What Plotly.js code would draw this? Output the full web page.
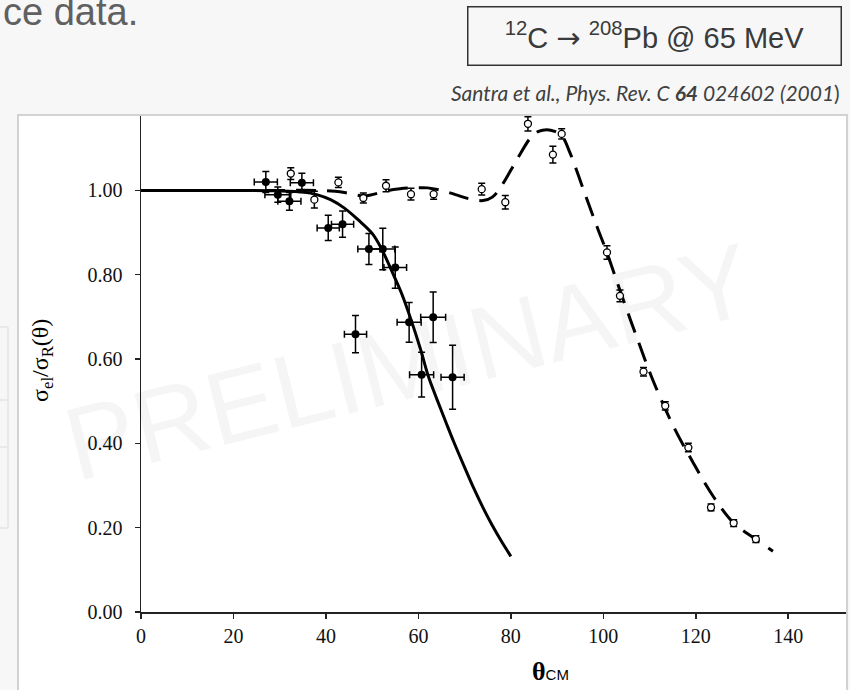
<!DOCTYPE html>
<html><head><meta charset="utf-8">
<script src="https://cdn.plot.ly/plotly-3.0.1.min.js"></script>
<style>html,body{margin:0;padding:0;background:#f7f7f7;overflow:hidden;} #chart{width:850px;height:690px;}</style>
</head><body><div id="chart"></div>
<script>
// Fit curve 1 (solid): optical-model fit to filled data
const solidTheta = [0, 10, 20, 30, 35, 38, 41, 44, 47, 50, 52, 54.6, 56.5, 58.2, 60.5, 62.1, 64, 66, 67.6, 70, 72, 74, 76, 78, 80];
const solidVals  = [1.000, 1.000, 1.000, 0.999, 0.996, 0.990, 0.978, 0.958, 0.930, 0.898, 0.862, 0.800, 0.752, 0.700, 0.622, 0.561, 0.505, 0.449, 0.405, 0.343, 0.293, 0.247, 0.205, 0.167, 0.132];

// Fit curve 2 (dashed): fit to open data
const dashTheta = [0, 10, 20, 30, 38, 42, 45, 48, 50, 53, 56, 59, 62, 65, 68, 71, 74, 76, 78.4, 81.3, 84.5, 86, 87.8, 89.5, 91, 92.8, 95.7, 98.6, 100.8, 103.6, 107.2, 110.8, 115.2, 119.5, 123.8, 128.2, 132.5, 136.7];
const dashVals  = [1.000, 1.000, 1.000, 1.000, 1.000, 0.998, 0.993, 0.987, 0.990, 0.999, 1.004, 1.006, 1.006, 1.000, 0.990, 0.980, 0.976, 0.984, 1.018, 1.073, 1.128, 1.140, 1.144, 1.140, 1.130, 1.089, 1.002, 0.915, 0.852, 0.763, 0.653, 0.548, 0.440, 0.353, 0.274, 0.211, 0.176, 0.144];

// Filled data points
const filledTheta = [27.0, 29.6, 32.1, 34.8, 40.5, 43.6, 46.4, 49.3, 52.3, 55.0, 58.0, 60.7, 63.2, 67.4];
const filledVals  = [1.020, 0.990, 0.974, 1.018, 0.911, 0.920, 0.659, 0.861, 0.861, 0.817, 0.687, 0.563, 0.699, 0.557];
const filledXErr  = [2.5, 2.8, 2.5, 2.5, 2.4, 2.4, 2.4, 2.4, 2.6, 2.45, 2.6, 2.6, 2.7, 2.5];
const filledYErr  = [0.025, 0.018, 0.021, 0.023, 0.030, 0.031, 0.044, 0.037, 0.049, 0.049, 0.047, 0.053, 0.060, 0.076];

// Open data points
const openTheta = [32.4, 37.5, 42.7, 48.1, 53.0, 58.4, 63.3, 73.7, 78.8, 83.7, 89.1, 91.0, 100.8, 103.6, 108.7, 113.4, 118.4, 123.3, 128.2, 133.0];
const openVals  = [1.040, 0.978, 1.019, 0.982, 1.011, 0.991, 0.991, 1.003, 0.972, 1.158, 1.085, 1.134, 0.853, 0.750, 0.570, 0.489, 0.390, 0.248, 0.211, 0.173];
const openYErr  = [0.014, 0.020, 0.012, 0.012, 0.014, 0.014, 0.012, 0.014, 0.016, 0.017, 0.020, 0.012, 0.016, 0.014, 0.010, 0.010, 0.010, 0.008, 0.008, 0.008];

const xTickVals = [0, 20, 40, 60, 80, 100, 120, 140];
const xTickText = ['0', '20', '40', '60', '80', '100', '120', '140'];
const yTickVals = [0, 0.2, 0.4, 0.6, 0.8, 1.0];
const yTickText = ['0.00', '0.20', '0.40', '0.60', '0.80', '1.00'];

const SERIF = "'Liberation Serif', 'DejaVu Serif', serif";
const SANS = "'Liberation Sans', Arial, sans-serif";

const traces = [
  {x: solidTheta, y: solidVals, mode: 'lines', line: {color: '#000', width: 3, shape: 'spline', smoothing: 1}, hoverinfo: 'skip', showlegend: false},
  {x: dashTheta, y: dashVals, mode: 'lines', line: {color: '#000', width: 3, dash: '20px,11px', shape: 'spline', smoothing: 1}, hoverinfo: 'skip', showlegend: false},
  {x: openTheta, y: openVals, mode: 'markers', marker: {symbol: 'circle', size: 7, color: '#fff', line: {color: '#000', width: 1.3}},
   error_y: {type: 'data', array: openYErr, visible: true, color: '#000', thickness: 1.5, width: 3.5}, showlegend: false},
  {x: filledTheta, y: filledVals, mode: 'markers', marker: {symbol: 'circle', size: 8, color: '#000'},
   error_x: {type: 'data', array: filledXErr, visible: true, color: '#000', thickness: 1.5, width: 3.5},
   error_y: {type: 'data', array: filledYErr, visible: true, color: '#000', thickness: 1.5, width: 3.5}, showlegend: false}
];

// pixel -> paper helpers (plot area: x 141..846, y 116..612)
const PX = px => (px - 141) / 705;
const PY = py => (612 - py) / 496;

const layout = {
  width: 850, height: 690,
  margin: {l: 141, r: 4, t: 116, b: 78, pad: 0},
  paper_bgcolor: '#f7f7f7',
  plot_bgcolor: 'rgba(0,0,0,0)',
  showlegend: false,
  xaxis: {range: [0, 152.5], tickvals: xTickVals, ticktext: xTickText, showgrid: false, zeroline: false,
          showline: true, linecolor: '#222', linewidth: 1.5, ticks: 'outside', ticklen: 5, tickwidth: 1.5, tickcolor: '#222',
          tickfont: {family: SERIF, size: 20, color: '#111'}},
  yaxis: {range: [0, 1.1765], tickvals: yTickVals, ticktext: yTickText, showgrid: false, zeroline: false,
          showline: true, linecolor: '#222', linewidth: 1.5, ticks: 'outside', ticklen: 5, tickwidth: 1.5, tickcolor: '#222',
          tickfont: {family: SERIF, size: 20, color: '#111'}, ticklabelstandoff: 8},
  shapes: [
    {type: 'rect', xref: 'paper', yref: 'paper', x0: PX(18), x1: PX(847), y0: PY(705), y1: PY(115), fillcolor: '#ffffff', line: {color: '#d2d2d2', width: 2}, layer: 'below'},
    {type: 'line', xref: 'paper', yref: 'paper', x0: PX(8), x1: PX(8), y0: PY(528), y1: PY(327), line: {color: '#e4e4e4', width: 1.5}, layer: 'below'},
    {type: 'line', xref: 'paper', yref: 'paper', x0: PX(-2), x1: PX(8), y0: PY(327), y1: PY(327), line: {color: '#e4e4e4', width: 1.5}, layer: 'below'},
    {type: 'line', xref: 'paper', yref: 'paper', x0: PX(-2), x1: PX(8), y0: PY(400), y1: PY(400), line: {color: '#e4e4e4', width: 1.5}, layer: 'below'},
    {type: 'line', xref: 'paper', yref: 'paper', x0: PX(-2), x1: PX(8), y0: PY(447), y1: PY(447), line: {color: '#e4e4e4', width: 1.5}, layer: 'below'},
    {type: 'line', xref: 'paper', yref: 'paper', x0: PX(-2), x1: PX(8), y0: PY(528), y1: PY(528), line: {color: '#e4e4e4', width: 1.5}, layer: 'below'}
  ],
  annotations: [
    {text: 'PRELIMINARY', xref: 'paper', yref: 'paper', x: PX(408), y: PY(362), xanchor: 'center', yanchor: 'middle',
     showarrow: false, textangle: -14, font: {family: SANS, size: 104, color: 'rgba(0,0,0,0.04)'}},
    {text: 'ce data.', xref: 'paper', yref: 'paper', x: PX(1), y: PY(35), xanchor: 'left', yanchor: 'bottom',
     showarrow: false, font: {family: SANS, size: 38, color: '#606060'}},
    {text: "<sup>12</sup>C <span style=\"font-family:'DejaVu Sans'\">→</span> <sup>208</sup>Pb @ 65 MeV", xref: 'paper', yref: 'paper', x: PX(654.5), y: PY(36.5), xanchor: 'center', yanchor: 'middle',
     showarrow: false, width: 370, height: 55, borderpad: 1, borderwidth: 1.5, bordercolor: '#333', font: {family: SANS, size: 29, color: '#3a3a3a'}},
    {text: '<i>Santra et al., Phys. Rev. C <b>64</b> 024602 (2001</i>)', xref: 'paper', yref: 'paper', x: PX(842), y: PY(92), xanchor: 'right', yanchor: 'middle',
     showarrow: false, font: {family: "Lato, 'Open Sans', sans-serif", size: 21, color: '#404040'}},
    {text: 'σ<sub>el</sub>/σ<sub>R</sub>(θ)', xref: 'paper', yref: 'paper', x: PX(42), y: PY(361), xanchor: 'center', yanchor: 'middle',
     showarrow: false, textangle: -90, font: {family: SERIF, size: 24, color: '#000'}},
    {text: "<b>θ</b><span style=\"font-family:'Liberation Sans';font-size:15px\">CM</span>", xref: 'paper', yref: 'paper', x: PX(550), y: PY(671), xanchor: 'center', yanchor: 'middle',
     showarrow: false, font: {family: SERIF, size: 26, color: '#000'}}
  ]
};

Plotly.newPlot('chart', traces, layout, {staticPlot: true, displayModeBar: false});
</script></body></html>
